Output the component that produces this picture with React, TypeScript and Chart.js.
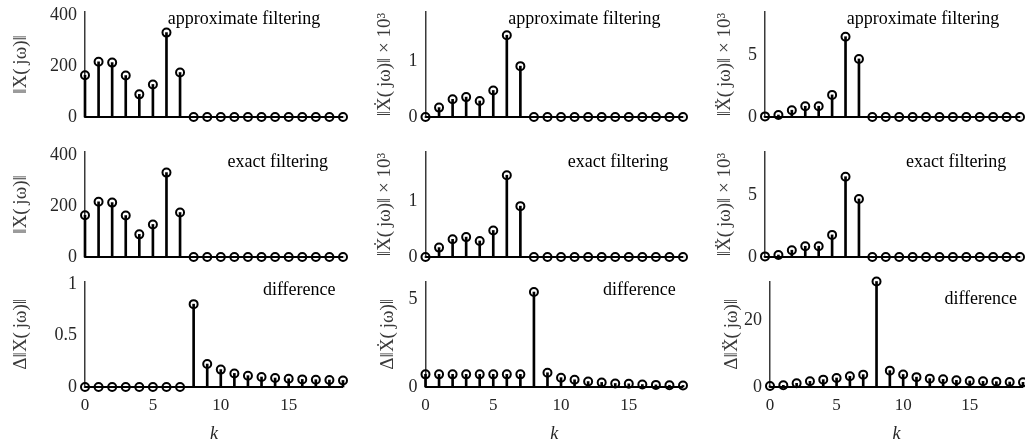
import React, { useEffect, useRef } from "react";
import { Chart, registerables } from "chart.js";

Chart.register(...registerables);

// ---------- data ----------
const K = [0, 1, 2, 3, 4, 5, 6, 7, 8, 9, 10, 11, 12, 13, 14, 15, 16, 17, 18, 19];
const X_TICKS = [0, 5, 10, 15];

// ||X(jw)||, approximate / exact filtering
const X_APPROX = [164, 217, 214, 163, 89, 128, 332, 175, 0, 0, 0, 0, 0, 0, 0, 0, 0, 0, 0, 0];
const X_EXACT = [164, 217, 214, 163, 89, 128, 332, 175, 0, 0, 0, 0, 0, 0, 0, 0, 0, 0, 0, 0];
// ||Xdot(jw)|| x 10^3
const XD_APPROX = [0, 0.17, 0.32, 0.36, 0.29, 0.48, 1.48, 0.92, 0, 0, 0, 0, 0, 0, 0, 0, 0, 0, 0, 0];
const XD_EXACT = [0, 0.17, 0.32, 0.36, 0.29, 0.48, 1.48, 0.92, 0, 0, 0, 0, 0, 0, 0, 0, 0, 0, 0, 0];
// ||Xddot(jw)|| x 10^3
const XDD_APPROX = [0.05, 0.16, 0.55, 0.87, 0.87, 1.79, 6.5, 4.7, 0, 0, 0, 0, 0, 0, 0, 0, 0, 0, 0, 0];
const XDD_EXACT = [0.05, 0.16, 0.55, 0.87, 0.87, 1.79, 6.5, 4.7, 0, 0, 0, 0, 0, 0, 0, 0, 0, 0, 0, 0];
// differences
const DX = [0, 0, 0, 0, 0, 0, 0, 0, 0.805, 0.223, 0.169, 0.132, 0.11, 0.097, 0.087, 0.08, 0.074, 0.071, 0.068, 0.064];
const DXD = [0.72, 0.72, 0.72, 0.72, 0.72, 0.72, 0.72, 0.72, 5.4, 0.81, 0.53, 0.41, 0.31, 0.26, 0.2, 0.18, 0.14, 0.12, 0.1, 0.09];
const DXDD = [0.3, 0.5, 1.1, 1.7, 2.2, 2.7, 3.2, 3.7, 31.6, 4.9, 3.75, 2.95, 2.5, 2.3, 2.0, 1.8, 1.7, 1.6, 1.5, 1.4];

const Y_TICKS_X = [0, 200, 400];
const Y_TICKS_XD = [0, 1];
const Y_TICKS_XDD = [0, 5];
const Y_TICKS_DX = [0, 0.5, 1];
const Y_TICKS_DXD = [0, 5];
const Y_TICKS_DXDD = [0, 20];

const Y_TITLES = [
  "‖X(\u2009jω)‖",
  "‖Ẋ(\u2009jω)‖ × 10³",
  "‖Ẍ(\u2009jω)‖ × 10³",
  "Δ‖X(\u2009jω)‖",
  "Δ‖Ẋ(\u2009jω)‖",
  "Δ‖Ẍ(\u2009jω)‖",
];
const NOTES = ["approximate filtering", "exact filtering", "difference"];
const X_TITLE = "k";

// ---------- layout ----------
const FONT = "'Liberation Serif', 'Times New Roman', serif";
const PAD = 26;
const TITLE_SIZE = 19;
const TITLE_HALF = (TITLE_SIZE * 1.2) / 2;

type PanelCfg = {
  values: number[];
  yMax: number;
  yTicks: number[];
  yTitle: string;
  note: string;
  noteX: number;
  noteDy: number;
  axisX: number;
  plotRight: number;
  plotTop: number;
  plotBottom: number;
  titleCx: number;
  bottomRow: boolean;
};

const ROW_TOP = [12, 152, 281.5];
const ROW_BOTTOM = [117, 257, 387];
const NOTE_X = [6.1, 10.5, 13.1];

const PANELS: PanelCfg[] = [
  { values: X_APPROX, yMax: 413, yTicks: Y_TICKS_X, yTitle: Y_TITLES[0], note: NOTES[0], noteX: NOTE_X[0], noteDy: 12, axisX: 85, plotRight: 343, plotTop: ROW_TOP[0], plotBottom: ROW_BOTTOM[0], titleCx: 21, bottomRow: false },
  { values: XD_APPROX, yMax: 1.9, yTicks: Y_TICKS_XD, yTitle: Y_TITLES[1], note: NOTES[0], noteX: NOTE_X[0], noteDy: 12, axisX: 425.5, plotRight: 683, plotTop: ROW_TOP[0], plotBottom: ROW_BOTTOM[0], titleCx: 385, bottomRow: false },
  { values: XDD_APPROX, yMax: 8.5, yTicks: Y_TICKS_XDD, yTitle: Y_TITLES[2], note: NOTES[0], noteX: NOTE_X[0], noteDy: 12, axisX: 765, plotRight: 1020, plotTop: ROW_TOP[0], plotBottom: ROW_BOTTOM[0], titleCx: 725, bottomRow: false },
  { values: X_EXACT, yMax: 413, yTicks: Y_TICKS_X, yTitle: Y_TITLES[0], note: NOTES[1], noteX: NOTE_X[1], noteDy: 15, axisX: 85, plotRight: 343, plotTop: ROW_TOP[1], plotBottom: ROW_BOTTOM[1], titleCx: 21, bottomRow: false },
  { values: XD_EXACT, yMax: 1.9, yTicks: Y_TICKS_XD, yTitle: Y_TITLES[1], note: NOTES[1], noteX: NOTE_X[1], noteDy: 15, axisX: 425.5, plotRight: 683, plotTop: ROW_TOP[1], plotBottom: ROW_BOTTOM[1], titleCx: 385, bottomRow: false },
  { values: XDD_EXACT, yMax: 8.5, yTicks: Y_TICKS_XDD, yTitle: Y_TITLES[2], note: NOTES[1], noteX: NOTE_X[1], noteDy: 15, axisX: 765, plotRight: 1020, plotTop: ROW_TOP[1], plotBottom: ROW_BOTTOM[1], titleCx: 725, bottomRow: false },
  { values: DX, yMax: 1.025, yTicks: Y_TICKS_DX, yTitle: Y_TITLES[3], note: NOTES[2], noteX: NOTE_X[2], noteDy: 13, axisX: 85, plotRight: 343, plotTop: ROW_TOP[2], plotBottom: ROW_BOTTOM[2], titleCx: 21, bottomRow: true },
  { values: DXD, yMax: 6.0, yTicks: Y_TICKS_DXD, yTitle: Y_TITLES[4], note: NOTES[2], noteX: NOTE_X[2], noteDy: 13, axisX: 425.5, plotRight: 683, plotTop: ROW_TOP[2], plotBottom: ROW_BOTTOM[2], titleCx: 388, bottomRow: true },
  { values: DXDD, yMax: 31.6, yTicks: Y_TICKS_DXDD, yTitle: Y_TITLES[5], note: NOTES[2], noteX: NOTE_X[2], noteDy: 22, axisX: 770, plotRight: 1023, plotTop: ROW_TOP[2], plotBottom: ROW_BOTTOM[2], titleCx: 732, bottomRow: true },
];

const notePlugin = {
  id: "note",
  afterDatasetsDraw(chart: any, _args: any, opts: any) {
    const { ctx, chartArea, scales } = chart;
    ctx.save();
    ctx.font = `18px ${FONT}`;
    ctx.fillStyle = "#000";
    ctx.textAlign = "left";
    ctx.textBaseline = "alphabetic";
    ctx.fillText(opts.text, scales.x.getPixelForValue(opts.x), chartArea.top + opts.dy);
    ctx.restore();
  },
};

function Panel({ cfg }: { cfg: PanelCfg }) {
  const ref = useRef<HTMLCanvasElement | null>(null);
  const canvasLeft = Math.round(cfg.titleCx - TITLE_HALF);
  const canvasTop = Math.floor(cfg.plotTop - PAD);
  const width = Math.ceil(cfg.plotRight + 12 - canvasLeft);
  const height = cfg.bottomRow ? 445 - canvasTop : Math.ceil(cfg.plotBottom + PAD - canvasTop);
  const yW = cfg.axisX - canvasLeft;
  const xH = cfg.bottomRow ? 445 - cfg.plotBottom : 0;

  useEffect(() => {
    if (!ref.current) return;
    const pts = K.map((k, i) => ({ x: k, y: cfg.values[i] }));
    const chart = new Chart(ref.current, {
      type: "bar",
      data: {
        datasets: [
          {
            type: "line",
            data: pts,
            showLine: false,
            pointStyle: "circle",
            pointRadius: 4,
            pointBorderWidth: 2,
            pointBorderColor: "#000",
            pointBackgroundColor: "rgba(0,0,0,0)",
            clip: false,
          } as any,
          {
            type: "bar",
            data: pts,
            backgroundColor: "#000",
            borderWidth: 0,
            barThickness: 2,
            grouped: false,
            clip: false,
          } as any,
          {
            type: "line",
            data: [
              { x: K[0], y: 0 },
              { x: K[K.length - 1], y: 0 },
            ],
            borderColor: "#000",
            borderWidth: 2,
            pointRadius: 0,
            clip: false,
          } as any,
        ],
      },
      options: {
        animation: false,
        responsive: false,
        devicePixelRatio: 1,
        events: [],
        layout: {
          padding: {
            left: 0,
            top: cfg.plotTop - canvasTop,
            right: width - (cfg.plotRight - canvasLeft),
            bottom: cfg.bottomRow ? 0 : height - (cfg.plotBottom - canvasTop),
          },
        },
        plugins: {
          legend: { display: false },
          tooltip: { enabled: false },
          note: { text: cfg.note, x: cfg.noteX, dy: cfg.noteDy },
        } as any,
        scales: {
          x: {
            type: "linear",
            min: K[0],
            max: K[K.length - 1],
            offset: false,
            display: cfg.bottomRow,
            grid: { display: false, drawTicks: false },
            border: { display: false },
            afterBuildTicks: (axis: any) => {
              axis.ticks = X_TICKS.map((v) => ({ value: v }));
            },
            afterFit: (axis: any) => {
              axis.height = xH;
            },
            ticks: {
              padding: 8,
              color: "#262626",
              font: { family: FONT, size: 17 },
              maxRotation: 0,
              callback: (v: any) => String(v),
            },
            title: {
              display: true,
              text: X_TITLE,
              padding: 0,
              color: "#262626",
              font: { family: FONT, size: 18, style: "italic" },
            },
          },
          y: {
            type: "linear",
            min: 0,
            max: cfg.yMax,
            grid: { display: false, drawTicks: false },
            border: { display: true, color: "#3a3a3a", width: 1.5 },
            afterBuildTicks: (axis: any) => {
              axis.ticks = cfg.yTicks.map((v) => ({ value: v }));
            },
            afterFit: (axis: any) => {
              axis.width = yW;
            },
            ticks: {
              padding: 8,
              color: "#262626",
              font: { family: FONT, size: 18 },
              callback: (v: any) => String(v),
            },
            title: {
              display: true,
              text: cfg.yTitle,
              padding: 0,
              color: "#3a3a3a",
              font: { family: FONT, size: TITLE_SIZE },
            },
          },
        },
      } as any,
      plugins: [notePlugin],
    });
    return () => chart.destroy();
  }, []);

  return (
    <canvas
      ref={ref}
      width={width}
      height={height}
      style={{ position: "absolute", left: canvasLeft, top: canvasTop, width, height }}
    />
  );
}

export default function App() {
  return (
    <div
      style={{
        position: "fixed",
        left: 0,
        top: 0,
        width: 1025,
        height: 445,
        overflow: "hidden",
        background: "#fff",
      }}
    >
      {PANELS.map((p, i) => (
        <Panel key={i} cfg={p} />
      ))}
    </div>
  );
}
